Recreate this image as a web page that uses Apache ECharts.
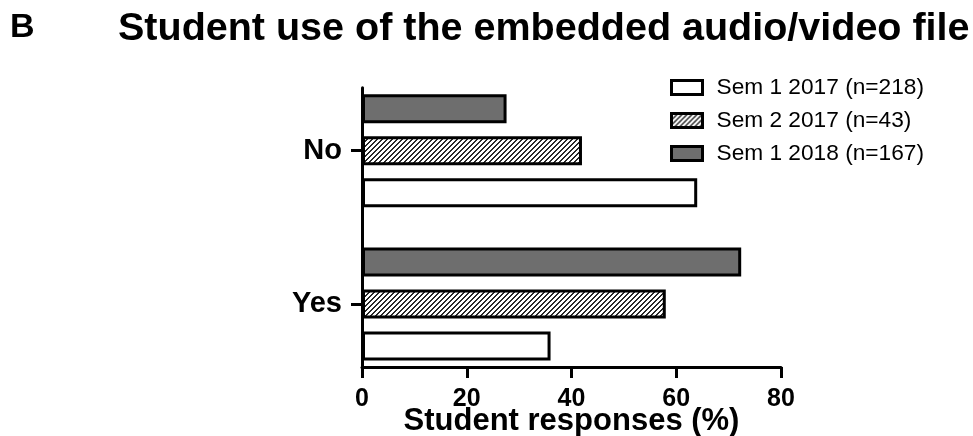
<!DOCTYPE html>
<html>
<head>
<meta charset="utf-8">
<script src="https://cdn.jsdelivr.net/npm/echarts@6/dist/echarts.min.js"></script>
<style>
  html, body { margin: 0; padding: 0; background: #fff; }
  #chart { width: 973px; height: 436px; }
</style>
</head>
<body>
<div id="chart"></div>
<script>
// Responses per category, in percent of students
const categories = ['Yes', 'No'];
const seriesNames = ['Sem 1 2017 (n=218)', 'Sem 2 2017 (n=43)', 'Sem 1 2018 (n=167)'];
const sem1_2017 = [36, 64];
const sem2_2017 = [58, 42];
const sem1_2018 = [72.4, 27.6];
const xTicks = [0, 20, 40, 60, 80];

const FONT = '"Liberation Sans", Arial, Helvetica, sans-serif';

// Diagonal hatch tile for the second series
function hatchPattern() {
  const n = 5;
  const c = document.createElement('canvas');
  c.width = n; c.height = n;
  const ctx = c.getContext('2d');
  const img = ctx.createImageData(n, n);
  for (let y = 0; y < n; y++) {
    for (let x = 0; x < n; x++) {
      const i = (y * n + x) * 4;
      const d = (x + y) % n;
      const v = d < 2 ? 40 : 255;
      img.data[i] = v; img.data[i + 1] = v; img.data[i + 2] = v; img.data[i + 3] = 255;
    }
  }
  ctx.putImageData(img, 0, 0);
  return { image: c, repeat: 'repeat' };
}

const fills = ['#ffffff', hatchPattern(), '#6e6e6e'];
const values = [sem1_2017, sem2_2017, sem1_2018];

const chart = echarts.init(document.getElementById('chart'), null, { renderer: 'canvas' });

// Series are stacked in reverse so the first semester sits lowest in each group
const barSeries = [2, 1, 0].map(k => ({
  name: seriesNames[k],
  type: 'bar',
  xAxisIndex: 0,
  yAxisIndex: 0,
  data: values[k],
  barWidth: 29,
  barGap: '45%',
  itemStyle: { color: fills[k], borderColor: '#000', borderWidth: 3 },
  emphasis: { disabled: true },
  animation: false
}));

chart.setOption({
  backgroundColor: '#fff',
  animation: false,
  title: [
    { text: 'B', left: 5, top: 6,
      textStyle: { fontFamily: FONT, fontWeight: 'bold', fontSize: 34, color: '#000' } },
    { text: 'Student use of the embedded audio/video file', left: 113, top: 4,
      textStyle: { fontFamily: FONT, fontWeight: 'bold', fontSize: 39.5, color: '#000' } }
  ],
  legend: {
    orient: 'vertical',
    left: 670,
    top: 76,
    padding: 0,
    itemGap: 10,
    itemWidth: 31,
    itemHeight: 14,
    icon: 'rect',
    data: seriesNames,
    itemStyle: { borderColor: '#000', borderWidth: 3 },
    textStyle: { fontFamily: FONT, fontSize: 22.7, color: '#000', padding: [0, 0, 0, 9] },
    selectedMode: false
  },
  grid: [
    // bars and category ticks
    { left: 362, right: 192, top: 74, height: 306.7, containLabel: false, outerBoundsMode: 'none' },
    // visible axis frame
    { left: 362, right: 192, top: 87.7, bottom: 69, containLabel: false, outerBoundsMode: 'none' }
  ],
  xAxis: [
    { type: 'value', gridIndex: 0, min: 0, max: 80, show: false },
    {
      type: 'value', gridIndex: 1, min: 0, max: 80, interval: 20,
      name: 'Student responses (%)',
      nameLocation: 'middle',
      nameGap: 39,
      nameMoveOverlap: false,
      nameTextStyle: { fontFamily: FONT, fontWeight: 'bold', fontSize: 31, color: '#000' },
      axisLine: { show: true, lineStyle: { color: '#000', width: 3 } },
      axisTick: { show: true, length: 11, lineStyle: { color: '#000', width: 3 } },
      axisLabel: { fontFamily: FONT, fontWeight: 'bold', fontSize: 25, color: '#000', margin: 20,
        formatter: v => xTicks.includes(v) ? String(v) : '' },
      splitLine: { show: false }
    }
  ],
  yAxis: [
    {
      type: 'category', gridIndex: 0, data: categories,
      axisLine: { show: false },
      axisTick: { show: true, alignWithLabel: true, length: 11, lineStyle: { color: '#000', width: 3 } },
      axisLabel: { fontFamily: FONT, fontWeight: 'bold', fontSize: 29, color: '#000', margin: 20 },
      splitLine: { show: false }
    },
    {
      type: 'value', gridIndex: 1, min: 0, max: 1,
      axisLine: { show: true, lineStyle: { color: '#000', width: 3 } },
      axisTick: { show: false },
      axisLabel: { show: false },
      splitLine: { show: false }
    }
  ],
  series: barSeries
});
</script>
</body>
</html>
